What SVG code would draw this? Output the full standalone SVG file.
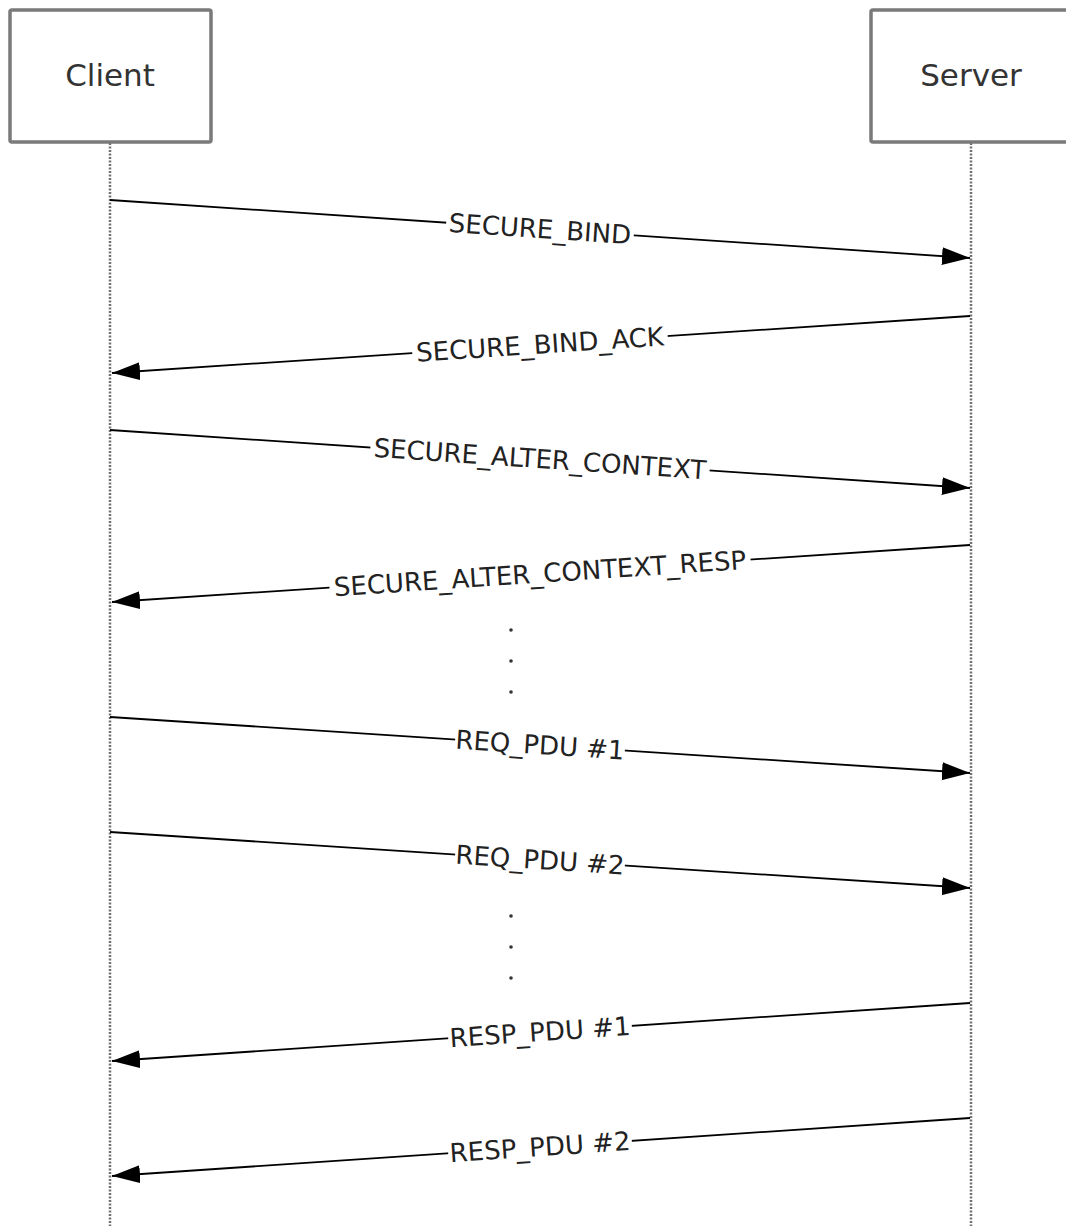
<svg xmlns="http://www.w3.org/2000/svg" width="1066" height="1226" viewBox="0 0 1066 1226">
<style>
.box{fill:#fff;stroke:#7a7a7a;stroke-width:3.5}
.title{font-family:"DejaVu Sans",Verdana,sans-serif;font-size:31px;fill:#333;text-anchor:middle;dominant-baseline:central}
.life{stroke:#707070;stroke-width:2.5;stroke-dasharray:2 1.5;fill:none}
.msg{stroke:#000;stroke-width:1.8;fill:none;marker-end:url(#arr)}
.lbl{font-family:"DejaVu Sans",Verdana,sans-serif;font-size:26px;fill:#222;text-anchor:middle;dominant-baseline:central}
.bg{fill:#fff}
.dot{fill:#333}
</style>
<defs>
<marker id="arr" markerUnits="userSpaceOnUse" markerWidth="30" markerHeight="20" refX="28" refY="9" orient="auto">
<path d="M0,0 L28,9 L0,18 Z" fill="#000"/>
</marker>
</defs>
<rect width="1066" height="1226" fill="#fff"/>
<g id="lifelines">
<line class="life" x1="110" y1="143" x2="110" y2="1226"/>
<line class="life" x1="971" y1="143" x2="971" y2="1226"/>
</g>
<g id="client">
<rect class="box" x="10" y="10" width="201" height="132" rx="2"/>
<text class="title" x="110" y="75">Client</text>
</g>
<g id="server">
<rect class="box" x="871" y="10" width="210" height="132" rx="2"/>
<text class="title" x="971" y="75">Server</text>
</g>
<g id="connectors">
<line class="msg" x1="110" y1="200" x2="970" y2="258"/>
<line class="msg" x1="970" y1="316" x2="112" y2="373"/>
<line class="msg" x1="110" y1="430" x2="970" y2="488"/>
<line class="msg" x1="970" y1="545" x2="112" y2="602"/>
<line class="msg" x1="110" y1="717" x2="970" y2="773"/>
<line class="msg" x1="110" y1="832" x2="970" y2="888"/>
<line class="msg" x1="970" y1="1003" x2="112" y2="1061"/>
<line class="msg" x1="970" y1="1118" x2="112" y2="1176"/>
</g>
<g id="labels">
<g transform="translate(540,229) rotate(3.86)"><rect class="bg" x="-94" y="-12" width="188" height="24"/><text class="lbl" x="0" y="0">SECURE_BIND</text></g>
<g transform="translate(540,344.6) rotate(-3.80)"><rect class="bg" x="-128" y="-12" width="256" height="24"/><text class="lbl" x="0" y="0">SECURE_BIND_ACK</text></g>
<g transform="translate(540,459) rotate(3.86)"><rect class="bg" x="-170" y="-12" width="340" height="24"/><text class="lbl" x="0" y="0">SECURE_ALTER_CONTEXT</text></g>
<g transform="translate(540,573.6) rotate(-3.80)"><rect class="bg" x="-211" y="-12" width="422" height="24"/><text class="lbl" x="0" y="0">SECURE_ALTER_CONTEXT_RESP</text></g>
<g transform="translate(540,745) rotate(3.72)"><rect class="bg" x="-85" y="-12" width="170" height="24"/><text class="lbl" x="0" y="0">REQ_PDU #1</text></g>
<g transform="translate(540,860) rotate(3.72)"><rect class="bg" x="-85" y="-12" width="170" height="24"/><text class="lbl" x="0" y="0">REQ_PDU #2</text></g>
<g transform="translate(540,1032.1) rotate(-3.87)"><rect class="bg" x="-92" y="-12" width="184" height="24"/><text class="lbl" x="0" y="0">RESP_PDU #1</text></g>
<g transform="translate(540,1147.1) rotate(-3.87)"><rect class="bg" x="-92" y="-12" width="184" height="24"/><text class="lbl" x="0" y="0">RESP_PDU #2</text></g>
</g>
<g id="ellipsis">
<circle class="dot" cx="511" cy="630" r="1.8"/>
<circle class="dot" cx="511" cy="661" r="1.8"/>
<circle class="dot" cx="511" cy="692" r="1.8"/>
<circle class="dot" cx="511" cy="916" r="1.8"/>
<circle class="dot" cx="511" cy="947" r="1.8"/>
<circle class="dot" cx="511" cy="978" r="1.8"/>
</g>
</svg>
